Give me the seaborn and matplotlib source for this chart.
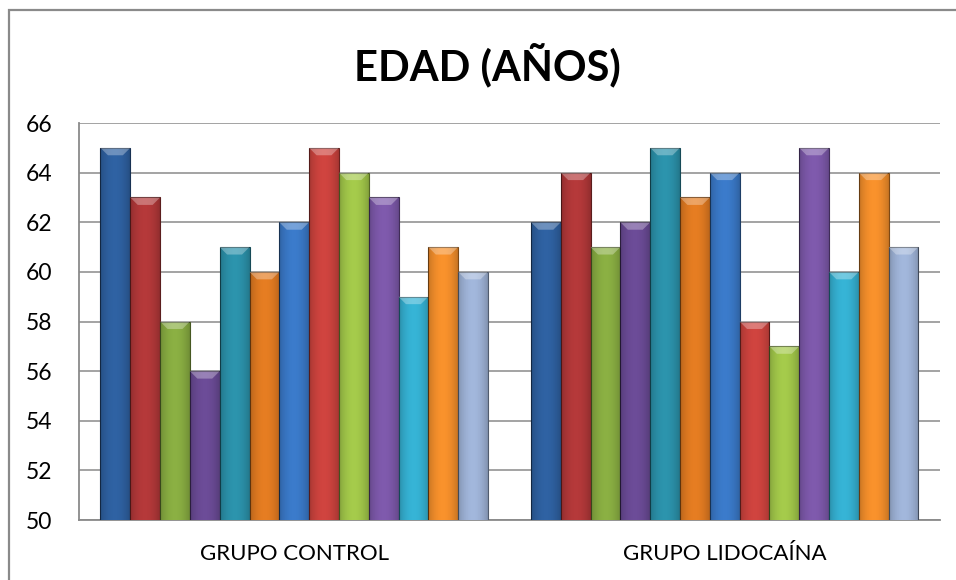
import numpy as np
import pandas as pd
import seaborn as sns
import matplotlib.pyplot as plt
from matplotlib.patches import Rectangle

# group labels and ages of the 13 patients in each group
grupos = ['GRUPO CONTROL', 'GRUPO LIDOCAÍNA']
control = [65, 63, 58, 56, 61, 60, 62, 65, 64, 63, 59, 61, 60]
lidocaina = [62, 64, 61, 62, 65, 63, 64, 58, 57, 65, 60, 64, 61]
serie = [f'S{i + 1}' for i in range(13)]

colores = ['#2F62A3', '#B5393A', '#8BB043', '#6C4C98', '#2C94AD', '#E67D22',
           '#3B7BCB', '#D0443F', '#A5CB4B', '#7F5AAD', '#36B4D6', '#F9922C',
           '#A2B7DC']

sns.set_theme(style='white')
plt.rcParams['font.family'] = ['Lato', 'DejaVu Sans']
plt.rcParams['text.color'] = 'black'

df = pd.DataFrame({
    'grupo': [grupos[0]] * 13 + [grupos[1]] * 13,
    'serie': serie + serie,
    'edad': control + lidocaina,
})

ymin, ymax = 50, 66

fig = plt.figure(figsize=(9.56, 5.8), dpi=100)
ax = fig.add_axes([0.0826, 0.1034, 0.9006, 0.6845])

sns.barplot(data=df, x='grupo', y='edad', hue='serie', palette=colores,
            saturation=1, width=0.9, gap=0, legend=False, ax=ax, zorder=3)

# darker outline + cylinder-like shading on each bar
grad = np.linspace(-1, 1, 64)
shade = np.zeros((1, 64, 4))
shade[0, :, 3] = 0.2 * np.abs(grad) ** 2
bars = [p for p in ax.patches if isinstance(p, Rectangle) and p.get_height() > 0]
for p in bars:
    fc = np.array(p.get_facecolor()[:3])
    p.set_edgecolor(fc * 0.5)
    p.set_linewidth(0.8)
    x0, w, top = p.get_x(), p.get_width(), p.get_y() + p.get_height()
    im = ax.imshow(shade, extent=(x0, x0 + w, ymin, top), aspect='auto',
                   zorder=4, interpolation='bicubic')
    im.set_clip_path(p)
    # light bevel at the top of the bar
    ax.fill([x0, x0 + w, x0 + w * 0.75, x0 + w * 0.25],
            [top, top, top - 0.3, top - 0.3],
            color='white', alpha=0.3, lw=0, zorder=5)

ax.set_xlim(-0.5, 1.5)
ax.set_ylim(ymin, ymax)
ax.set_yticks(range(ymin, ymax + 1, 2))
ax.yaxis.grid(True, color='#8A8A8A', linewidth=1.1, zorder=0)
ax.set_axisbelow(True)
for s in ['top', 'right']:
    ax.spines[s].set_visible(False)
for s in ['left', 'bottom']:
    ax.spines[s].set_color('#8A8A8A')
    ax.spines[s].set_linewidth(1.3)
ax.tick_params(axis='y', length=0, pad=19, labelsize=16.5, labelcolor='black')
ax.tick_params(axis='x', length=0, pad=17, labelsize=16, labelcolor='black')
ax.set_xlabel('')
ax.set_ylabel('')

fig.text(0.51, 0.888, 'EDAD (AÑOS)', ha='center', va='center',
         fontsize=30, fontweight='bold', color='black')

# chart frame
fig.patches.append(Rectangle((0.009, -0.05), 1.1, 1.032, transform=fig.transFigure,
                             fill=False, edgecolor='#8A8A8A', linewidth=1.6))

fig.savefig('out.png', dpi=100)
